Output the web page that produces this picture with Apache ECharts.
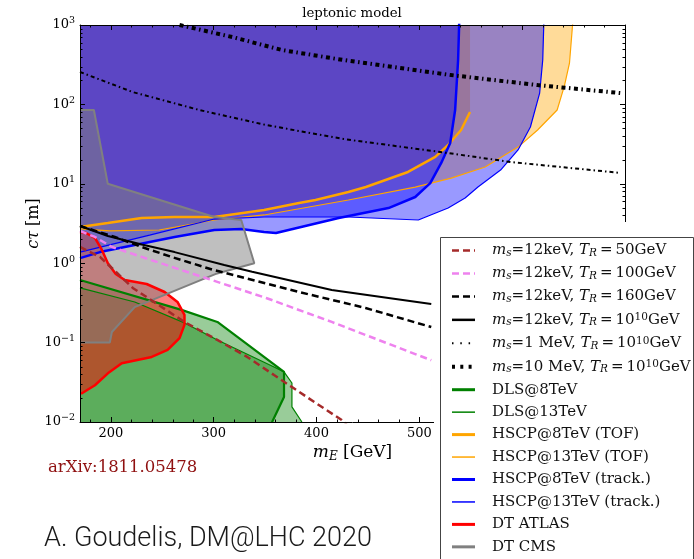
<!DOCTYPE html>
<html><head><meta charset="utf-8">
<script src="https://cdn.jsdelivr.net/npm/echarts@6/dist/echarts.min.js"></script>
<style>html,body{margin:0;padding:0;background:#fff}#c{width:694px;height:559px}</style>
</head><body><div id="c"></div>
<script>
// ---------- data (x = m_E [GeV], y = c tau [m]) ----------
const hscp13TofEdge = [[170,2.70],[199,2.55],[247,2.62],[300.6,3.5],[349,4.05],[431,6.25],[496,9.1],[531,11.8],[564,16.3],[596,29],[615,47.6],[634,85],[641,170],[646,330],[649,1000],[650,1300]];
const hscp8TofEdge = [[170,2.86],[197,3.21],[230,3.71],[262,3.82],[300.6,3.82],[349,4.68],[383,5.73],[399,6.25],[431,7.88],[448,9.12],[489,14.1],[515.5,21.8],[528,30.8],[540.6,47.6],[549.3,80.2]];
const hscp13TrackEdge = [[170,1.38],[237.7,2.26],[300.6,3.6],[349,3.82],[431,3.82],[499,3.5],[528,4.95],[544.5,6.63],[557,9.12],[579,14.9],[596,26.7],[608,51.9],[617,139],[620,362],[621,1000],[621.5,1300]];
const hscp8TrackEdge = [[170,1.16],[189.4,1.38],[213.5,1.60],[262,2.14],[300.6,2.62],[326.8,2.70],[349,2.47],[360.6,2.40],[421.6,3.71],[470,4.95],[496,6.82],[510.6,10.2],[521.3,18.3],[530,32.7],[534.8,85],[537.7,362],[538.7,1000],[539,1300]];
const dls8Edge = [[170,0.614],[268.7,0.258],[303.6,0.182],[368.4,0.0427],[368.4,0.0207],[356.8,0.01],[355,0.009]];
const dls13Edge = [[170,0.488],[223.2,0.325],[271.6,0.177],[303.6,0.108],[358.7,0.0493],[368.4,0.0427],[376.1,0.031],[376.1,0.0155],[385.8,0.01],[387,0.0095]];
const dtAtlasEdge = [[170,2.47],[175.8,2.40],[184.5,2.08],[191.3,1.47],[197.1,1.0],[204.8,0.73],[213.5,0.614],[234.8,0.547],[252.3,0.434],[264.8,0.325],[271.6,0.223],[271.6,0.167],[266.8,0.114],[255.2,0.081],[239.7,0.066],[210.6,0.055],[197.1,0.041],[184.5,0.029],[171.9,0.023],[170,0.023]];
const dtCmsEdge = [[170,85],[183.5,85],[197,10],[300.6,3.82],[326.8,3.5],[339.5,1.0],[301.6,0.73],[223.2,0.28],[201,0.136],[199,0.1],[170,0.1]];

const ms12TR50 = [[170,1.6],[189.4,1.2],[203.9,0.80],[221.3,0.488],[249.4,0.281],[271.6,0.182],[303.5,0.108],[332.6,0.066],[358.7,0.039],[399.4,0.0173],[424.5,0.0106],[429.3,0.0094]];
const ms12TR100 = [[170,2.55],[184.5,2.14],[201,1.60],[230,1.2],[283.2,0.71],[351,0.365],[414.8,0.182],[511.6,0.060]];
const ms12TR160 = [[170,2.94],[203.9,2.14],[230,1.60],[259,1.2],[298.7,0.83],[382.9,0.434],[447.7,0.273],[511.6,0.157]];
const ms12TR1e10 = [[170,2.94],[197.1,2.20],[230,1.72],[262,1.38],[310.3,0.95],[337.4,0.78],[414.8,0.46],[470,0.365],[511.6,0.306]];
const ms1MeV = [[170,256],[221.3,143],[286,85],[351,55],[426.4,36.6],[528,24.4],[589,18.8],[695.5,13.7]];
const ms10MeV = [[266.8,1000],[318,706],[366.4,484],[426.4,362],[531,234],[615,175],[695.5,139]];

const xMinorTicks = [180,220,240,260,280,320,340,360,380,420,440,460,480,520,540,560,580,620,640,660,680];
const yMinorMultipliers = [2,3,4,5,6,7,8,9];
const yDecades = [-2,-1,0,1,2];

const SERIF = 'DejaVu Serif';

// polygon closures (outside the plot frame)
const TOP = 5000, BOT = 0.004, LEFT = 160;
function closeUp(edge){ const l = edge[edge.length-1]; return edge.concat([[l[0],TOP],[LEFT,TOP],[LEFT,edge[0][1]]]); }
function closeLeft(edge){ return [[LEFT,edge[0][1]]].concat(edge,[[LEFT,edge[edge.length-1][1]]]); }
function closeDown(edge){ const l = edge[edge.length-1]; return edge.concat([[l[0],BOT],[LEFT,BOT],[LEFT,edge[0][1]]]); }

function fill(name, poly, color){
  return {type:'custom', name:name, data:poly, silent:true, z:2,
    renderItem:function(params, api){
      if (params.dataIndex !== 0) return null;
      const cs = params.coordSys;
      const pts = poly.map(p => api.coord(p));
      return {type:'polygon', shape:{points:pts}, style:{fill:color},
        clipPath:{type:'rect', shape:{x:cs.x, y:cs.y, width:cs.width, height:cs.height}}};
    }};
}
function line(name, data, color, width, dash){
  return {type:'line', name:name, data:data, symbol:'none', showSymbol:false, z:3, silent:true,
    lineStyle:{color:color, width:width, type:dash||'solid'}, itemStyle:{color:color}};
}

const series = [
  fill('f_hscp13tof', closeUp(hscp13TofEdge), 'rgba(255,165,0,0.4)'),
  fill('f_hscp8tof', closeUp(hscp8TofEdge), 'rgba(255,165,0,0.4)'),
  fill('f_hscp13trk', closeUp(hscp13TrackEdge), 'rgba(0,0,255,0.4)'),
  fill('f_hscp8trk', closeUp(hscp8TrackEdge), 'rgba(0,0,255,0.4)'),
  fill('f_dls8', closeDown(dls8Edge), 'rgba(0,128,0,0.4)'),
  fill('f_dls13', closeDown(dls13Edge), 'rgba(0,128,0,0.4)'),
  fill('f_atlas', closeLeft(dtAtlasEdge), 'rgba(255,0,0,0.5)'),
  fill('f_cms', closeLeft(dtCmsEdge), 'rgba(128,128,128,0.5)'),
  line('HSCP@13TeV (TOF)', hscp13TofEdge, '#ffa500', 1.2),
  line('HSCP@8TeV (TOF)', hscp8TofEdge, '#ffa500', 2.5),
  line('HSCP@13TeV (track.)', hscp13TrackEdge, '#0000ff', 1.2),
  line('HSCP@8TeV (track.)', hscp8TrackEdge, '#0000ff', 2.5),
  line('DLS@8TeV', dls8Edge, '#008000', 2.2),
  line('DLS@13TeV', dls13Edge, '#008000', 1.2),
  line('DT ATLAS', dtAtlasEdge, '#ff0000', 2.5),
  line('DT CMS', dtCmsEdge, '#808080', 2),
  line('ms12TR50', ms12TR50, '#a52a2a', 2.5, [7,4]),
  line('ms12TR100', ms12TR100, '#ee82ee', 2.5, [7,4]),
  line('ms12TR160', ms12TR160, '#000000', 2.5, [7,4]),
  line('ms12TR1e10', ms12TR1e10, '#000000', 2),
  line('ms1MeV', ms1MeV, '#000000', 2, [4,3,1.5,3]),
  line('ms10MeV', ms10MeV, '#000000', 4, [4,3.5,1.5,3.5]),
  {type:'custom', name:'minorTicks', silent:true, z:6, data:[[200,1]],
    renderItem:function(params, api){
      const cs = params.coordSys; const ch = [];
      const st = {stroke:'#000', lineWidth:1};
      yDecades.forEach(e => yMinorMultipliers.forEach(m => {
        const y = Math.round(api.coord([200, m*Math.pow(10,e)])[1]) + 0.5;
        ch.push({type:'line', shape:{x1:cs.x, y1:y, x2:cs.x+2.5, y2:y}, style:st});
        ch.push({type:'line', shape:{x1:cs.x+cs.width-2.5, y1:y, x2:cs.x+cs.width, y2:y}, style:st});
      }));
      xMinorTicks.forEach(v => {
        const x = Math.round(api.coord([v, 1])[0]) + 0.5;
        ch.push({type:'line', shape:{x1:x, y1:cs.y+cs.height, x2:x, y2:cs.y+cs.height-2.5}, style:st});
        ch.push({type:'line', shape:{x1:x, y1:cs.y, x2:x, y2:cs.y+2.5}, style:st});
      });
      return {type:'group', children:ch};
    }}
];

const rich = {
  n:{fontFamily:SERIF, fontSize:15, lineHeight:16, color:'#111'},
  i:{fontFamily:SERIF, fontSize:15, fontStyle:'italic', lineHeight:16, color:'#111'},
  sub:{fontFamily:SERIF, fontSize:10.5, fontStyle:'italic', lineHeight:8, verticalAlign:'bottom', color:'#111'},
  sup:{fontFamily:SERIF, fontSize:10.5, lineHeight:8, verticalAlign:'top', color:'#111'},
  gap:{width:12}
};
const legendLabels = {
  'ms12TR50':'{gap| }{i|m}{sub|s}{n|=12keV, }{i|T}{sub|R}{n|\u2009=\u200950GeV}',
  'ms12TR100':'{gap| }{i|m}{sub|s}{n|=12keV, }{i|T}{sub|R}{n|\u2009=\u2009100GeV}',
  'ms12TR160':'{gap| }{i|m}{sub|s}{n|=12keV, }{i|T}{sub|R}{n|\u2009=\u2009160GeV}',
  'ms12TR1e10':'{gap| }{i|m}{sub|s}{n|=12keV, }{i|T}{sub|R}{n|\u2009=\u200910}{sup|10}{n|GeV}',
  'ms1MeV':'{gap| }{i|m}{sub|s}{n|=1 MeV, }{i|T}{sub|R}{n|\u2009=\u200910}{sup|10}{n|GeV}',
  'ms10MeV':'{gap| }{i|m}{sub|s}{n|=10 MeV, }{i|T}{sub|R}{n|\u2009=\u200910}{sup|10}{n|GeV}'
};
const legendItems = [
  ['ms12TR50',2.5,[7,4]],['ms12TR100',2.5,[7,4]],['ms12TR160',2.5,[7,4]],['ms12TR1e10',2.5,'solid'],
  ['ms1MeV',2,[1.5,6.8]],['ms10MeV',4,[3,5.3]],
  ['DLS@8TeV',3,'solid'],['DLS@13TeV',1.5,'solid'],['HSCP@8TeV (TOF)',3,'solid'],['HSCP@13TeV (TOF)',1.5,'solid'],
  ['HSCP@8TeV (track.)',3,'solid'],['HSCP@13TeV (track.)',1.5,'solid'],['DT ATLAS',3,'solid'],['DT CMS',3,'solid']
].map(a => ({name:a[0], lineStyle:{width:a[1], type:a[2]}}));

const tickStyle = {show:true, inside:true, length:5, lineStyle:{color:'#000', width:1}};
const axLine = {show:true, onZero:false, lineStyle:{color:'#000', width:1}};
const lblRich = {
  b:{fontFamily:SERIF, fontSize:13, lineHeight:18, color:'#000'},
  s:{fontFamily:SERIF, fontSize:9.5, lineHeight:9, verticalAlign:'top', color:'#000'}
};
const nameRich = {
  nm:{fontFamily:SERIF, fontSize:17, lineHeight:20, color:'#000'},
  nmi:{fontFamily:SERIF, fontSize:17, fontStyle:'italic', lineHeight:20, color:'#000'},
  nms:{fontFamily:SERIF, fontSize:12, fontStyle:'italic', lineHeight:10, verticalAlign:'bottom', color:'#000'}
};

const option = {
  animation:false,
  backgroundColor:'#fff',
  title:[
    {text:'leptonic model', left:352, top:6, textAlign:'center', padding:0,
      textStyle:{fontFamily:SERIF, fontSize:13.3, fontWeight:'normal', color:'#000', lineHeight:16}},
    {text:'arXiv:1811.05478', left:48, top:459, padding:0,
      textStyle:{fontFamily:SERIF, fontSize:16.5, fontWeight:'normal', color:'#8f1010', lineHeight:18}},
    {text:'A. Goudelis, DM@LHC 2020', left:44, top:524, padding:0,
      textStyle:{fontFamily:'Roboto', fontSize:27, fontWeight:300, color:'#1a1a1a', lineHeight:30}}
  ],
  grid:{left:80, right:69, top:25, bottom:137, containLabel:false, outerBoundsMode:'none'},
  xAxis:[
    {type:'value', min:170, max:700, position:'bottom', z:5, splitLine:{show:false},
      axisLine:axLine, axisTick:tickStyle,
      axisLabel:{fontFamily:SERIF, fontSize:13, color:'#000', margin:5, formatter:v => (v % 100 === 0 ? String(v) : '')},
      name:'{nmi|m}{nms|E}{nm| [GeV]}', nameLocation:'middle', nameGap:21, nameMoveOverlap:false, nameTextStyle:{rich:nameRich}},
    {type:'value', min:170, max:700, position:'top', z:5, splitLine:{show:false},
      axisLine:axLine, axisTick:tickStyle, axisLabel:{show:false}}
  ],
  yAxis:[
    {type:'log', logBase:10, min:0.01, max:1000, position:'left', z:5, splitLine:{show:false},
      axisLine:axLine, axisTick:tickStyle,
      axisLabel:{margin:5, formatter:v => {const e = Math.round(Math.log10(v)); return '{b|10}{s|' + (e < 0 ? '\u2212' + (-e) : e) + '}';}, rich:lblRich},
      name:'{nmi|c\u03c4}{nm| [m]}', nameLocation:'middle', nameRotate:90, nameGap:38, nameMoveOverlap:false,
      nameTextStyle:{rich:{nm:{fontFamily:SERIF, fontSize:16, color:'#000'}, nmi:{fontFamily:SERIF, fontSize:16, fontStyle:'italic', color:'#000'}}}},
    {type:'log', logBase:10, min:0.01, max:1000, position:'right', z:5, splitLine:{show:false},
      axisLine:axLine, axisTick:tickStyle, axisLabel:{show:false}}
  ],
  legend:{show:true, orient:'vertical', left:450, top:243, padding:0, itemWidth:23, itemHeight:14, itemGap:7.45,
    selectedMode:false, z:110, itemStyle:{opacity:0},
    textStyle:{fontFamily:SERIF, fontSize:15, color:'#111', rich:rich},
    formatter:function(name){ return legendLabels[name] || ('{gap| }{n|' + name + '}'); },
    data:legendItems},
  graphic:[
    {type:'rect', z:100, silent:true, shape:{x:434, y:222, width:260, height:337}, style:{fill:'#fff'}},
    {type:'rect', z:101, silent:true, shape:{x:440.5, y:237.5, width:253, height:330}, style:{fill:'#fff', stroke:'#444', lineWidth:1}}
  ],
  series:series
};
const chart = echarts.init(document.getElementById('c'), null, {renderer:'canvas'});
chart.setOption(option);
</script></body></html>
